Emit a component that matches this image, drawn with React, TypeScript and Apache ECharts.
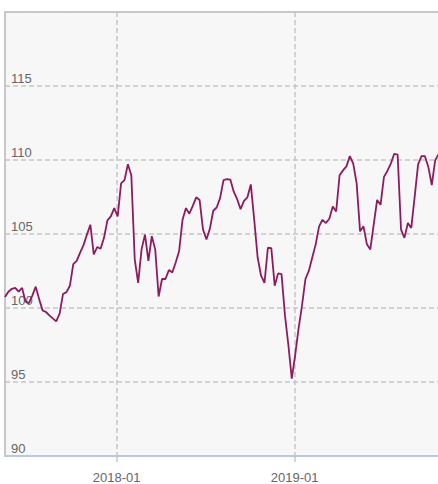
import React, { useEffect, useRef } from "react";
import * as echarts from "echarts";

// Weekly observations, first week starting 2017-05-17
const startDate = { year: 2017, month: 4, day: 17 };
const values: number[] = [
  100.75, 101.1, 101.3, 101.36, 101.1, 101.36, 100.44, 100.33, 100.84, 101.44,
  100.6, 99.84, 99.73, 99.5, 99.3, 99.1, 99.62, 100.95, 101.07, 101.5,
  102.96, 103.18, 103.74, 104.25, 104.96, 105.63, 103.63, 104.12, 104.0, 104.74,
  105.92, 106.19, 106.75, 106.19, 108.42, 108.64, 109.71, 108.97, 103.29, 101.69,
  103.96, 104.96, 103.18, 104.85, 103.96, 100.78, 101.96, 101.96, 102.56, 102.4,
  103.07, 103.85, 105.96, 106.75, 106.37, 106.9, 107.48, 107.3, 105.3, 104.63,
  105.35, 106.57, 106.79, 107.42, 108.64, 108.7, 108.68, 107.86, 107.35, 106.68,
  107.24, 107.48, 108.35, 105.96, 103.41, 102.18, 101.69, 104.07, 104.05, 101.51,
  102.34, 102.29, 99.5, 97.5, 95.23, 96.83, 98.62, 100.17, 101.96, 102.51,
  103.41, 104.3, 105.52, 105.96, 105.74, 106.03, 106.86, 106.52, 108.97, 109.3,
  109.57, 110.26, 109.75, 108.42, 105.18, 105.52, 104.3, 103.96, 105.63, 107.3,
  106.97, 108.86, 109.26, 109.75, 110.42, 110.37, 105.3, 104.74, 105.74, 105.41,
  107.52, 109.71, 110.26, 110.26, 109.53, 108.3, 109.97, 110.4,
];
const yMin = 90;
const yMax = 120;
const yStep = 5;

const weekDate = (i: number) =>
  new Date(startDate.year, startDate.month, startDate.day + 7 * i).getTime();

export default function App() {
  const ref = useRef<HTMLDivElement>(null);
  useEffect(() => {
    if (!ref.current) return;
    const chart = echarts.init(ref.current, undefined, { renderer: "svg" });
    const data = values.map((v, i) => [weekDate(i), v]);
    const YEAR = 365 * 24 * 3600 * 1000;
    const gridColor = "#c6c6c6";
    const axisBlue = "#b9c9dd";
    const font = "'Liberation Sans', Arial, Helvetica, sans-serif";
    chart.setOption({
      animation: false,
      backgroundColor: "#ffffff",
      grid: {
        left: 5,
        right: 8,
        top: 12,
        bottom: 25,
        show: true,
        backgroundColor: "#f7f7f7",
        borderColor: "#c8c8c8",
        borderWidth: 2,
        containLabel: false,
      },
      xAxis: {
        type: "time",
        min: weekDate(0),
        max: new Date(startDate.year, startDate.month, startDate.day + 896).getTime(),
        minInterval: YEAR,
        maxInterval: YEAR,
        axisLine: { show: true, lineStyle: { color: axisBlue, width: 2 } },
        axisTick: {
          show: true,
          length: 6,
          lineStyle: { color: axisBlue, width: 1.5 },
        },
        axisLabel: {
          show: true,
          color: "#666",
          fontSize: 13,
          fontFamily: font,
          margin: 15,
          showMinLabel: false,
          showMaxLabel: false,
          formatter: (v: number) => {
            const d = new Date(v);
            if (d.getMonth() === 0 && d.getDate() === 1) {
              return `${d.getFullYear()}-01`;
            }
            return "";
          },
        },
        splitLine: {
          show: true,
          lineStyle: { color: gridColor, width: 1.5, type: [5, 3] },
        },
      },
      yAxis: {
        type: "value",
        min: yMin,
        max: yMax,
        interval: yStep,
        axisLine: { show: false },
        axisTick: { show: false },
        axisLabel: {
          inside: true,
          margin: 6,
          color: "#666",
          fontSize: 13,
          fontFamily: font,
          verticalAlign: "bottom",
          padding: [0, 0, 1, 0],
          showMaxLabel: false,
        },
        splitLine: {
          show: true,
          lineStyle: { color: gridColor, width: 1.5, type: [5, 3] },
        },
      },
      series: [
        {
          type: "line",
          data,
          showSymbol: false,
          symbol: "none",
          clip: true,
          lineStyle: { color: "#8c1b5f", width: 1.8 },
          itemStyle: { color: "#8c1b5f" },
        },
      ],
    });
    return () => chart.dispose();
  }, []);
  return (
    <div
      style={{
        position: "absolute",
        left: 0,
        top: 0,
        width: 438,
        height: 484,
        overflow: "hidden",
        background: "#fff",
      }}
    >
      <div ref={ref} style={{ width: 450, height: 484 }} />
    </div>
  );
}
